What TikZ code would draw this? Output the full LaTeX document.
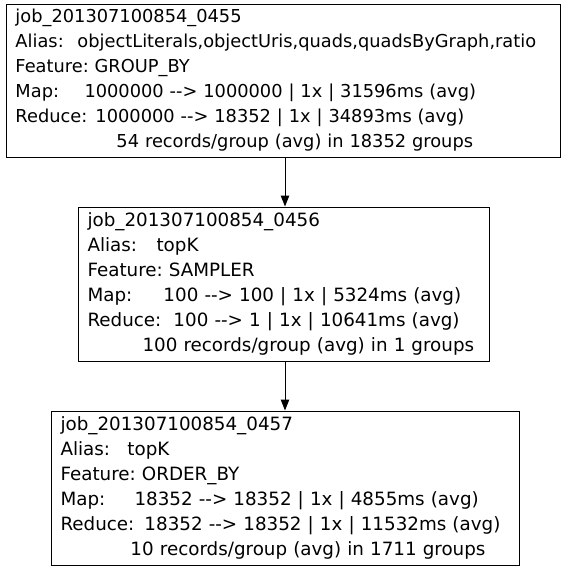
\documentclass[tikz,border=0pt]{standalone}
\usepackage{fontspec}
\setmainfont{DejaVu Sans}
\usetikzlibrary{arrows.meta}
\tikzset{
  jobbox/.style={draw=black, line width=1pt, rectangle, align=left,
    inner xsep=9.5pt, inner ysep=0pt},
  bigtext/.style={font=\fontsize{18.3}{25}\selectfont\frenchspacing},
  smalltext/.style={font=\fontsize{17.8}{25}\selectfont\frenchspacing},
  flow/.style={draw=black, line width=1pt,
    -{Triangle[length=11pt,width=8.5pt]}}
}
% label column of fixed width, then the value
\newcommand{\fieldlbl}[2]{\makebox[#1][l]{#2}}
% plain arrow made of two hyphens and a greater-than sign
\newcommand{\flowto}{-{}-{}>}
\begin{document}
\begin{tikzpicture}[x=1pt,y=-1pt]
\useasboundingbox (0,0) rectangle (568,571);
\fill[white] (0,0) rectangle (568,571);

\node[jobbox, smalltext, text width=535pt, minimum height=153pt] (j1) at (283,80.5) {%
\mbox{job\_201307100854\_0455}\\
\mbox{\fieldlbl{62pt}{Alias:}objectLiterals,objectUris,quads,quadsByGraph,ratio}\\
\mbox{Feature: GROUP\_BY}\\
\mbox{\fieldlbl{69pt}{Map:}1000000 \flowto{} 1000000 | 1x | 31596ms (avg)}\\
\mbox{\fieldlbl{80pt}{Reduce:}1000000 \flowto{} 18352 | 1x | 34893ms (avg)}\\
\mbox{\hspace*{101pt}54 records/group (avg) in 18352 groups}};

\node[jobbox, bigtext, text width=392pt, minimum height=154pt] (j2) at (283.5,284) {%
\mbox{job\_201307100854\_0456}\\
\mbox{\fieldlbl{69pt}{Alias:}topK}\\
\mbox{Feature: SAMPLER}\\
\mbox{\fieldlbl{76pt}{Map:}100 \flowto{} 100 | 1x | 5324ms (avg)}\\
\mbox{\fieldlbl{86pt}{Reduce:}100 \flowto{} 1 | 1x | 10641ms (avg)}\\
\mbox{\hspace*{55pt}100 records/group (avg) in 1 groups}};

\node[jobbox, bigtext, text width=449pt, minimum height=154pt] (j3) at (285,488) {%
\mbox{job\_201307100854\_0457}\\
\mbox{\fieldlbl{67pt}{Alias:}topK}\\
\mbox{Feature: ORDER\_BY}\\
\mbox{\fieldlbl{74pt}{Map:}18352 \flowto{} 18352 | 1x | 4855ms (avg)}\\
\mbox{\fieldlbl{84pt}{Reduce:}18352 \flowto{} 18352 | 1x | 11532ms (avg)}\\
\mbox{\hspace*{70pt}10 records/group (avg) in 1711 groups}};

\draw[flow] (j1.south -| 285,0) -- (j2.north -| 285,0);
\draw[flow] (j2.south -| 285,0) -- (j3.north -| 285,0);
\end{tikzpicture}
\end{document}
